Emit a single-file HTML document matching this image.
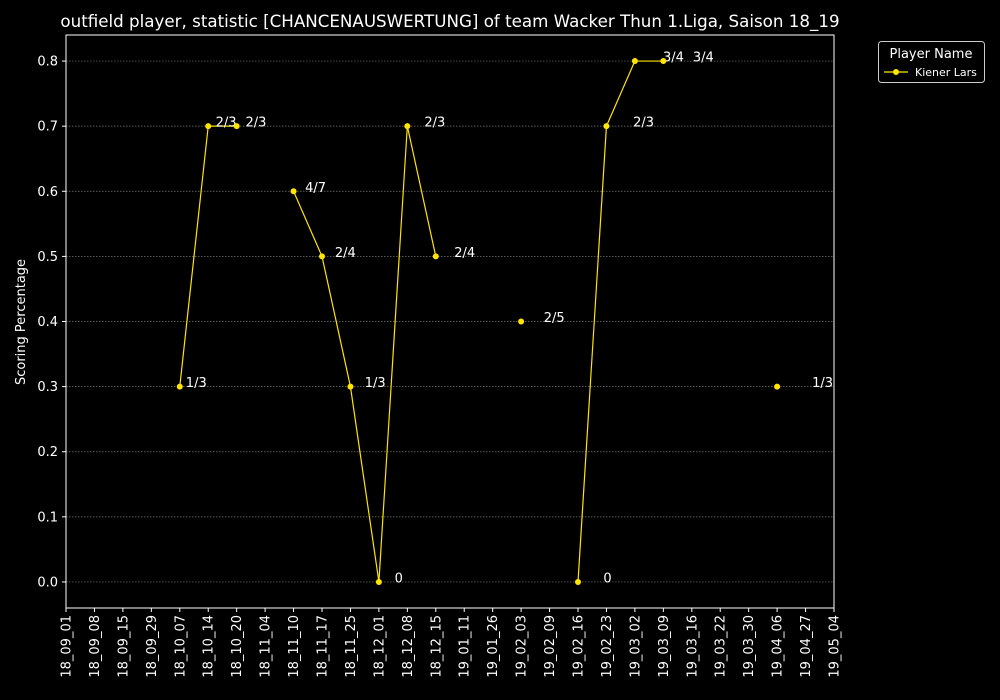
<!DOCTYPE html>
<html><head><meta charset="utf-8"><style>
html,body{margin:0;padding:0;background:#000;}
svg{display:block;font-family:"DejaVu Sans","Liberation Sans",sans-serif;}
</style></head><body>
<svg id="chart" width="1000" height="700" viewBox="0 0 1000 700">
<rect x="0" y="0" width="1000" height="700" fill="#000"/>
<text x="450" y="27" fill="#fff" font-size="16.7" text-anchor="middle">outfield player, statistic [CHANCENAUSWERTUNG] of team Wacker Thun 1.Liga, Saison 18_19</text>
<g id="grid"></g><g id="axes"></g><g id="series"></g>
<text transform="translate(25,322) rotate(-90)" fill="#fff" font-size="13" text-anchor="middle">Scoring Percentage</text>
<g>
<rect x="878.5" y="41.5" width="106" height="41" rx="3" fill="#000" stroke="#ccc"/>
<text x="931" y="58" fill="#fff" font-size="13" text-anchor="middle">Player Name</text>
<line x1="884" y1="72" x2="908" y2="72" stroke="#ffe500" stroke-width="1.2"/>
<circle cx="896" cy="72" r="3" fill="#ffe500"/>
<text x="915" y="76" fill="#fff" font-size="11">Kiener Lars</text>
</g>
</svg>
<script>
const categories=["18_09_01","18_09_08","18_09_15","18_09_29","18_10_07","18_10_14","18_10_20","18_11_04","18_11_10","18_11_17","18_11_25","18_12_01","18_12_08","18_12_15","19_01_11","19_01_26","19_02_03","19_02_09","19_02_16","19_02_23","19_03_02","19_03_09","19_03_16","19_03_22","19_03_30","19_04_06","19_04_27","19_05_04"];
const values=[null,null,null,null,0.3,0.7,0.7,null,0.6,0.5,0.3,0.0,0.7,0.5,null,null,0.4,null,0.0,0.7,0.8,0.8,null,null,null,0.3,null,null];
const pointLabels=[null,null,null,null,"1/3","2/3","2/3",null,"4/7","2/4","1/3","0","2/3","2/4",null,null,"2/5",null,"0","2/3","3/4","3/4",null,null,null,"1/3",null,null];
const yTicks=[0.0,0.1,0.2,0.3,0.4,0.5,0.6,0.7,0.8];
const X0=66,X1=834,Y0=35,Y1=608,YMIN=-0.04,YMAX=0.84;
function xs(i){return X0+i*(X1-X0)/(categories.length-1);}
function ys(v){return Y1-(v-YMIN)/(YMAX-YMIN)*(Y1-Y0);}
const NS="http://www.w3.org/2000/svg";
function mk(t,a,p){const e=document.createElementNS(NS,t);for(const k in a)e.setAttribute(k,a[k]);p.appendChild(e);return e;}
const grid=document.getElementById('grid'),axes=document.getElementById('axes'),ser=document.getElementById('series');
yTicks.forEach(v=>{
 const g=mk('line',{x1:X0,x2:X1,y1:ys(v),y2:ys(v),stroke:'#777','stroke-width':0.7,'stroke-dasharray':'1.5,1.5'},grid);
 
 
 mk('line',{x1:X0-4,x2:X0,y1:ys(v),y2:ys(v),stroke:'#fff'},axes);
 const t=mk('text',{x:X0-8,y:ys(v)+4.5,fill:'#fff','font-size':13,'text-anchor':'end'},axes);
 t.textContent=v.toFixed(1);
 
 
});
categories.forEach((c,i)=>{
 mk('line',{x1:xs(i),x2:xs(i),y1:Y1,y2:Y1+4,stroke:'#fff'},axes);
 const t=mk('text',{transform:`translate(${xs(i)+4.5},${Y1+7}) rotate(-90)`,fill:'#fff','font-size':13,'text-anchor':'end'},axes);
 t.textContent=c;
 
 
});
const fr=mk('rect',{x:X0,y:Y0,width:X1-X0,height:Y1-Y0,fill:'none',stroke:'#fff','stroke-width':1},axes);


for(let i=1;i<values.length;i++){
 if(values[i]!=null&&values[i-1]!=null){
  const l=mk('line',{x1:xs(i-1),y1:ys(values[i-1]),x2:xs(i),y2:ys(values[i]),stroke:'#ffe500','stroke-width':1.2},ser);
  
  
 }
}
values.forEach((v,i)=>{
 if(v==null)return;
 const c=mk('circle',{cx:xs(i),cy:ys(v),r:3,fill:'#ffe500'},ser);
 
 
 const t=mk('text',{x:xs(i)+0.5+1.38*i,y:ys(v)+0.5,fill:'#fff','font-size':13},ser);
 t.textContent=pointLabels[i];
 
 
});
</script>
</body></html>
